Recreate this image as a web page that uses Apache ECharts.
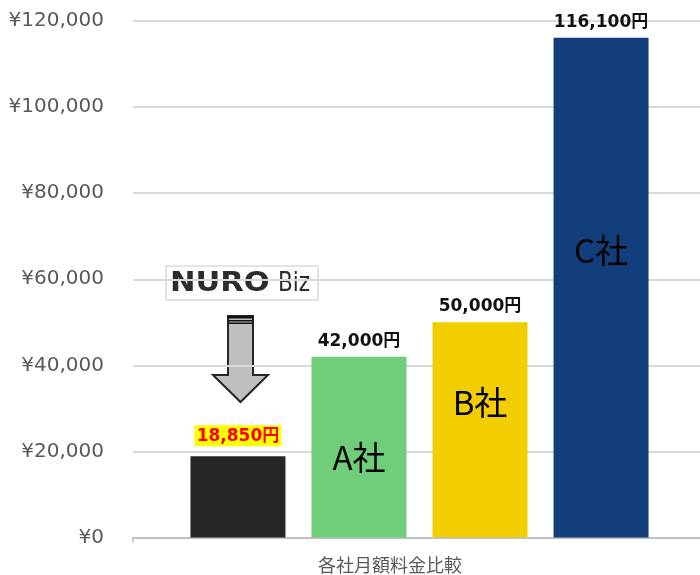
<!DOCTYPE html>
<html>
<head>
<meta charset="utf-8">
<script src="https://cdn.jsdelivr.net/npm/echarts@6/dist/echarts.min.js"></script>
<style>html,body{margin:0;padding:0;background:#fff}#chart{width:700px;height:575px}</style>
</head>
<body>
<div id="chart"></div>
<script>
const categories = ['各社月額料金比較'];
const seriesNames = ['NURO Biz', 'A社', 'B社', 'C社'];
const seriesValues = [18850, 42000, 50000, 116100];
const seriesColors = ['#262626', '#70cd7a', '#f2cd00', '#133e7c'];
const innerLabelValues = [null, 18500, 31300, 66800];
const yTicks = { min: 0, max: 120000, interval: 20000 };

const chart = echarts.init(document.getElementById('chart'));
const fmtYen = v => v.toLocaleString('en-US') + '円';

const series = seriesNames.map((name, i) => {
  const s = {
    name: name,
    type: 'bar',
    data: [seriesValues[i]],
    barWidth: 95,
    barGap: '27.4%',
    itemStyle: { color: seriesColors[i] },
    label: {
      show: true,
      position: 'top',
      distance: 7,
      formatter: p => fmtYen(p.value),
      fontFamily: 'DejaVu Sans, "Noto Sans CJK JP"',
      fontWeight: 'bold',
      fontSize: 17,
      color: '#111'
    }
  };
  if (i === 0) {
    s.label.color = '#ff0000';
    s.label.backgroundColor = '#ffff00';
    s.label.padding = [3, 2, 1, 2];
    s.label.distance = 10;
  }
  if (innerLabelValues[i] != null) {
    s.markPoint = {
      symbol: 'circle',
      symbolSize: 1,
      itemStyle: { color: 'rgba(0,0,0,0)' },
      label: {
        show: true,
        position: 'inside',
        formatter: name,
        fontFamily: '"Noto Sans CJK JP"',
        fontSize: 33,
        color: '#000'
      },
      data: [{ coord: [0, innerLabelValues[i]] }]
    };
  }
  return s;
});

const option = {
  animation: false,
  backgroundColor: '#ffffff',
  grid: { left: 133, right: -6, top: 21, bottom: 37.5, containLabel: false, outerBoundsMode: 'none' },
  xAxis: {
    type: 'category',
    data: categories,
    axisLine: { lineStyle: { color: '#bfbfbf', width: 2 } },
    axisTick: { show: true, length: 5, lineStyle: { color: '#bfbfbf', width: 1.5 } },
    axisLabel: {
      color: '#595959',
      fontFamily: '"Noto Sans CJK JP"',
      fontSize: 18,
      margin: 19,
      padding: [0, 59, 0, 0]
    }
  },
  yAxis: {
    type: 'value',
    min: yTicks.min,
    max: yTicks.max,
    interval: yTicks.interval,
    axisLine: { show: false },
    axisTick: { show: false },
    splitLine: { lineStyle: { color: '#d9d9d9', width: 2 } },
    axisLabel: {
      margin: 29,
      color: '#595959',
      fontFamily: 'DejaVu Sans',
      fontSize: 20,
      formatter: v => '¥' + v.toLocaleString('en-US')
    }
  },
  series: series,
  graphic: [
    {
      type: 'group',
      z: 100,
      children: [
        { type: 'rect', shape: { x: 166, y: 266, width: 152, height: 34 }, style: { fill: '#fff', stroke: '#c9c9c9', lineWidth: 1 } },
        { type: 'text', x: 170, y: 284, style: { text: 'NURO', fontFamily: 'DejaVu Sans', fontWeight: 'bold', fontSize: 27, fill: '#2b2b30', textVerticalAlign: 'middle' }, scaleX: 1.13 },
        { type: 'text', x: 278, y: 284, style: { text: 'Biz', fontFamily: 'DejaVu Sans', fontSize: 27, fill: '#2b2b30', textVerticalAlign: 'middle' }, scaleX: 0.8 },
        { type: 'polygon', shape: { points: [[228, 316], [253, 316], [253, 375], [268, 375], [240.5, 402], [213, 375], [228, 375]] }, style: { fill: '#bfbfbf', stroke: '#262626', lineWidth: 2 } },
        { type: 'rect', shape: { x: 228, y: 316, width: 25, height: 2.5 }, style: { fill: '#111' } },
        { type: 'rect', shape: { x: 228, y: 320, width: 25, height: 1.5 }, style: { fill: '#111' } },
        { type: 'rect', shape: { x: 228, y: 322.5, width: 25, height: 1.5 }, style: { fill: '#111' } }
      ]
    }
  ]
};
chart.setOption(option);
</script>
</body>
</html>
